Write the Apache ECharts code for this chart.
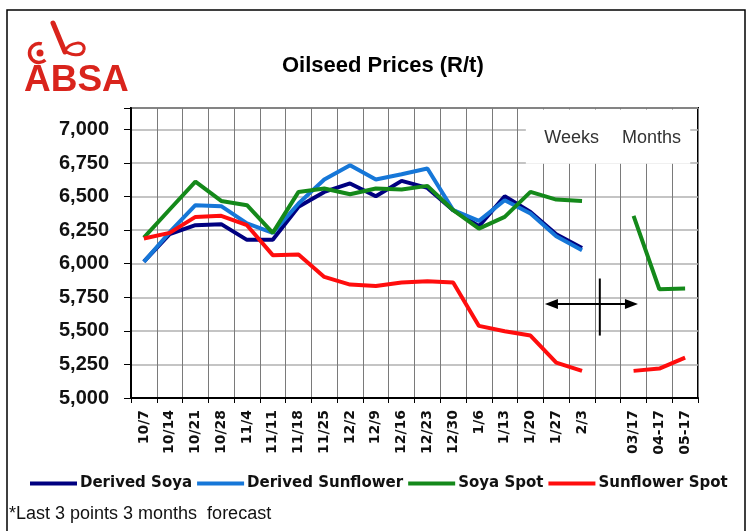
<!DOCTYPE html>
<html lang="en">
<head>
<meta charset="UTF-8">
<title>Oilseed Prices (R/t)</title>
<script src="https://cdn.jsdelivr.net/npm/echarts@6/dist/echarts.min.js"></script>
<style>html,body{margin:0;padding:0;background:#fff;}</style>
</head>
<body>
<div id="chart" style="width:750px;height:531px;"></div>
<script>
// weekly dates, a blank slot, then 3 monthly forecasts
var categories = ['10/7', '10/14', '10/21', '10/28', '11/4', '11/11', '11/18', '11/25', '12/2', '12/9',
    '12/16', '12/23', '12/30', '1/6', '1/13', '1/20', '1/27', '2/3', '', '03/17', '04-17', '05-17'];

var derivedSoya = [6015, 6220, 6287, 6295, 6178, 6178, 6424, 6535, 6598, 6503,
    6617, 6565, 6399, 6280, 6503, 6386, 6220, 6118, null, null, null, null];
var derivedSunflower = [6014, 6235, 6436, 6429, 6300, 6230, 6449, 6627, 6734, 6627,
    6667, 6709, 6399, 6319, 6473, 6374, 6205, 6101, null, null, null, null];
var soyaSpot = [6195, 6404, 6612, 6468, 6436, 6230, 6535, 6560, 6518, 6560,
    6553, 6580, 6399, 6262, 6349, 6535, 6478, 6468, null, 6357, 5810, 5815];
var sunflowerSpot = [6188, 6230, 6349, 6357, 6287, 6064, 6068, 5902, 5845, 5835,
    5860, 5870, 5860, 5537, 5497, 5465, 5264, 5202, null, 5202, 5219, 5301];

var seriesNames = ['Derived Soya', 'Derived Sunflower', 'Soya Spot', 'Sunflower Spot'];
var seriesColors = ['#000080', '#1677d8', '#14891a', '#ff0d0d'];
var seriesData = [derivedSoya, derivedSunflower, soyaSpot, sunflowerSpot];

var yMin = 5000, yMax = 7160, yStep = 250, yLabelMax = 7000;

var red = '#d9241c';

function fmt(v) {
    return String(v).replace(/\B(?=(\d{3})+(?!\d))/g, ',');
}

var chart = echarts.init(document.getElementById('chart'));

var option = {
    animation: false,
    backgroundColor: '#fff',
    title: {
        text: 'Oilseed Prices (R/t)',
        left: 282,
        top: 55,
        padding: 0,
        textStyle: {fontFamily: 'Arial', fontSize: 22, fontWeight: 'bold', color: '#000'}
    },
    legend: {
        data: seriesNames,
        left: 30,
        top: 476,
        padding: 0,
        itemGap: 5,
        itemWidth: 47,
        itemHeight: 4,
        icon: 'rect',
        textStyle: {fontFamily: 'DejaVu Sans', fontSize: 15, fontWeight: 'bold', color: '#111', padding: [0, 0, 0, -2]}
    },
    grid: {
        left: 131,
        right: 52,
        top: 108,
        bottom: 133,
        show: true,
        borderColor: '#000',
        borderWidth: 2,
        backgroundColor: '#fff'
    },
    xAxis: {
        type: 'category',
        data: categories,
        boundaryGap: true,
        axisLine: {lineStyle: {color: '#000', width: 2}},
        axisTick: {show: true, interval: 0, length: 5, lineStyle: {color: '#000', width: 1}},
        axisLabel: {
            interval: 0,
            rotate: 90,
            margin: 12,
            fontFamily: 'DejaVu Sans',
            fontSize: 14,
            fontWeight: 'bold',
            color: '#111'
        },
        splitLine: {show: true, interval: 0, lineStyle: {color: '#7a7a7a', width: 1}}
    },
    yAxis: {
        type: 'value',
        min: yMin,
        max: yMax,
        interval: yStep,
        axisLine: {show: true, lineStyle: {color: '#000', width: 2}},
        axisTick: {show: true, length: 7, lineStyle: {color: '#000', width: 1}},
        axisLabel: {
            margin: 22,
            fontFamily: 'Arial',
            fontSize: 20,
            fontWeight: 'bold',
            color: '#111',
            formatter: function (v) {
                return (v > yLabelMax || v % yStep !== 0) ? '' : fmt(v);
            }
        },
        splitLine: {show: true, lineStyle: {color: '#b0b0b0', width: 1.5}}
    },
    series: seriesNames.map(function (name, i) {
        return {
            name: name,
            type: 'line',
            data: seriesData[i],
            color: seriesColors[i],
            symbol: 'none',
            connectNulls: false,
            lineStyle: {width: 4, color: seriesColors[i]},
            z: 2 + i
        };
    })
};
chart.setOption(option);

// pixel position for a (fractional) category index and a value
function px(idx, val) {
    var a = chart.convertToPixel({gridIndex: 0}, [0, val]);
    var b = chart.convertToPixel({gridIndex: 0}, [1, val]);
    return [a[0] + (b[0] - a[0]) * idx, a[1]];
}

var top7 = px(0, yMax)[1];
var boxL = px(14.82, yMax)[0];
var boxR = px(21.2, yMax)[0];
var boxB = px(0, 6745)[1];
var arL = px(15.56, 5700), arR = px(19.17, 5700);
var vT = px(17.69, 5890), vB = px(17.69, 5465);
var head = 13, half = 5;

var graphics = [
    // outer frame
    {type: 'rect', shape: {x: 7, y: 10, width: 738, height: 530}, style: {fill: null, stroke: '#000', lineWidth: 1.5}, z: 0},
    // weeks / months label box
    {type: 'rect', shape: {x: boxL, y: top7 + 1.5, width: boxR - boxL, height: boxB - top7 - 1.5}, style: {fill: '#fff'}, z: 1},
    {type: 'text', style: {x: px(16.6, 0)[0], y: px(0, 6935)[1], text: 'Weeks', textAlign: 'center', textVerticalAlign: 'middle', font: '18px Arial', fill: '#333'}, z: 10},
    {type: 'text', style: {x: px(19.7, 0)[0], y: px(0, 6935)[1], text: 'Months', textAlign: 'center', textVerticalAlign: 'middle', font: '18px Arial', fill: '#333'}, z: 10},
    // double arrow
    {type: 'line', shape: {x1: arL[0] + head - 2, y1: arL[1], x2: arR[0] - head + 2, y2: arR[1]}, style: {stroke: '#000', lineWidth: 2}, z: 10},
    {type: 'polygon', shape: {points: [[arL[0], arL[1]], [arL[0] + head, arL[1] - half], [arL[0] + head, arL[1] + half]]}, style: {fill: '#000'}, z: 10},
    {type: 'polygon', shape: {points: [[arR[0], arR[1]], [arR[0] - head, arR[1] - half], [arR[0] - head, arR[1] + half]]}, style: {fill: '#000'}, z: 10},
    {type: 'line', shape: {x1: vT[0], y1: vT[1], x2: vB[0], y2: vB[1]}, style: {stroke: '#000', lineWidth: 2}, z: 10},
    // footnote
    {type: 'text', style: {x: 9, y: 514, text: '*Last 3 points 3 months  forecast', textVerticalAlign: 'middle', font: '18px Arial', fill: '#111'}, z: 10},
    // logo
    {type: 'arc', shape: {cx: 39, cy: 53, r: 9.5, startAngle: 48 * Math.PI / 180, endAngle: 287 * Math.PI / 180, clockwise: true}, style: {stroke: red, fill: null, lineWidth: 3.5}, z: 10},
    {type: 'circle', shape: {cx: 40, cy: 53, r: 3.5}, style: {fill: red}, z: 10},
    {type: 'line', shape: {x1: 53, y1: 23, x2: 65, y2: 52}, style: {stroke: red, lineWidth: 5, lineCap: 'round'}, z: 10},
    {type: 'bezierCurve', shape: {x1: 64, y1: 52, cpx1: 70, cpy1: 41, cpx2: 86, cpy2: 40, x2: 84, y2: 50}, style: {stroke: red, fill: null, lineWidth: 3}, z: 10},
    {type: 'bezierCurve', shape: {x1: 84, y1: 50, cpx1: 82, cpy1: 57, cpx2: 70, cpy2: 56, x2: 63, y2: 49}, style: {stroke: red, fill: null, lineWidth: 3}, z: 10},
    {type: 'text', style: {x: 24, y: 81, text: 'ABSA', textVerticalAlign: 'middle', font: 'bold 37px Arial', fill: red}, z: 10}
];

chart.setOption({graphic: graphics});
</script>
</body>
</html>
